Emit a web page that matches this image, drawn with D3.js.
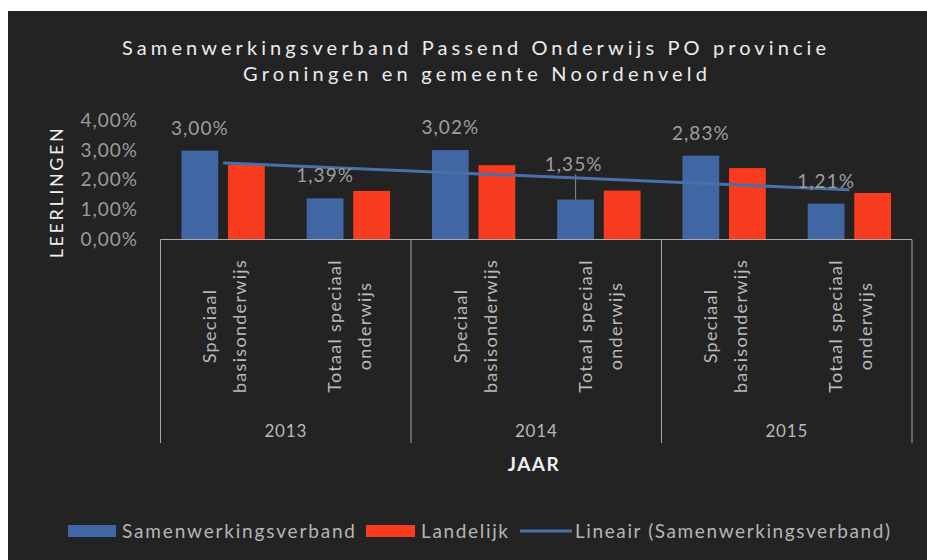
<!DOCTYPE html>
<html lang="nl">
<head>
<meta charset="UTF-8">
<title>Samenwerkingsverband</title>
<script src="https://d3js.org/d3.v7.min.js"></script>
<style>
    body { margin: 0; background: #fff; }
    text { font-family: Lato, "Open Sans", sans-serif; }
</style>
</head>
<body>
<script>
// data
var years = ["2013", "2014", "2015"];
var categoryLines = [["Speciaal", "basisonderwijs"], ["Totaal speciaal", "onderwijs"]];
var samenwerking = [3.00, 1.39, 3.02, 1.35, 2.83, 1.21];
var landelijk = [2.52, 1.64, 2.51, 1.65, 2.41, 1.57];
var yTicks = [0, 1, 2, 3, 4];
var seriesNames = ["Samenwerkingsverband", "Landelijk"];

var width = 927, height = 560;
var blue = "#4067a4", red = "#f93c1f";

var svg = d3.select("body").append("svg")
    .attr("width", width)
    .attr("height", height);

// dark panel
svg.append("rect")
    .attr("x", 8).attr("y", 11)
    .attr("width", width - 8).attr("height", height - 11)
    .attr("fill", "#232323");

// one entry per bar group (year x category)
var rows = [];
years.forEach(function (yr, i) {
    categoryLines.forEach(function (lines, j) {
        var k = i * categoryLines.length + j;
        rows.push({ id: k, year: yr, lines: lines, s: samenwerking[k], l: landelijk[k] });
    });
});

var x0 = d3.scaleBand()
    .domain(rows.map(function (d) { return d.id; }))
    .range([160.5, 912]);

var x1 = d3.scaleBand()
    .domain(seriesNames)
    .range([0, x0.bandwidth()])
    .paddingInner(0.21)
    .paddingOuter(0.45);

var y = d3.scaleLinear()
    .domain([0, 4])
    .range([239.5, 121]);

// title
var title = svg.append("g").attr("fill", "#ececec").style("font-size", "20px");
title.append("text")
    .attr("x", 474).attr("y", 55)
    .attr("text-anchor", "middle")
    .attr("textLength", 704).attr("lengthAdjust", "spacing")
    .text("Samenwerkingsverband Passend Onderwijs PO provincie");
title.append("text")
    .attr("x", 475).attr("y", 81)
    .attr("text-anchor", "middle")
    .attr("textLength", 464).attr("lengthAdjust", "spacing")
    .text("Groningen en gemeente Noordenveld");

// y axis labels
svg.append("g").selectAll("text")
    .data(yTicks)
    .enter().append("text")
    .attr("x", 138)
    .attr("y", function (d) { return y(d) + 6; })
    .attr("text-anchor", "end")
    .attr("fill", "#9b9b9b")
    .style("font-size", "19px")
    .style("letter-spacing", "1px")
    .text(function (d) { return d3.format(".2f")(d).replace(".", ",") + "%"; });

svg.append("text")
    .attr("transform", "translate(63,192) rotate(-90)")
    .attr("text-anchor", "middle")
    .attr("fill", "#efefef")
    .style("font-size", "18px")
    .style("letter-spacing", "2.6px")
    .text("LEERLINGEN");

// bars
var groups = svg.append("g").selectAll("g")
    .data(rows)
    .enter().append("g")
    .attr("transform", function (d) { return "translate(" + x0(d.id) + ",0)"; });

groups.append("rect")
    .attr("x", x1("Samenwerkingsverband"))
    .attr("width", x1.bandwidth())
    .attr("y", function (d) { return y(d.s); })
    .attr("height", function (d) { return y(0) - y(d.s); })
    .attr("fill", blue);

groups.append("rect")
    .attr("x", x1("Landelijk"))
    .attr("width", x1.bandwidth())
    .attr("y", function (d) { return y(d.l); })
    .attr("height", function (d) { return y(0) - y(d.l); })
    .attr("fill", red);

// linear trend of Samenwerkingsverband (like Excel's "Lineair")
var xs = rows.map(function (d, i) { return i + 1; });
var mx = d3.mean(xs), my = d3.mean(samenwerking);
var slope = d3.sum(xs, function (v, i) { return (v - mx) * (samenwerking[i] - my); }) /
    d3.sum(xs, function (v) { return (v - mx) * (v - mx); });
var trend = rows.map(function (d, i) { return { id: d.id, v: my + slope * (xs[i] - mx) }; });

svg.append("path")
    .datum([trend[0], trend[trend.length - 1]])
    .attr("fill", "none")
    .attr("stroke", "#4a70a9")
    .attr("stroke-width", 3)
    .attr("d", d3.line()
        .x(function (d) { return x0(d.id) + x0.bandwidth() / 2; })
        .y(function (d) { return y(d.v); }));

// data labels on the blue bars
var fmt = function (v) { return d3.format(".2f")(v).replace(".", ",") + "%"; };
var labelX = function (d) { return x0(d.id) + x1("Samenwerkingsverband") + x1.bandwidth() / 2; };
var lift = function (d) { return d.id === 3 ? 29 : 16; };

groups.filter(function (d) { return d.id === 3; })
    .append("line")
    .attr("x1", function (d) { return x1("Samenwerkingsverband") + x1.bandwidth() / 2; })
    .attr("x2", function (d) { return x1("Samenwerkingsverband") + x1.bandwidth() / 2; })
    .attr("y1", function (d) { return y(d.s) - lift(d) + 4; })
    .attr("y2", function (d) { return y(d.s); })
    .attr("stroke", "#8a8a8a");

svg.append("g").selectAll("text")
    .data(rows)
    .enter().append("text")
    .attr("x", function (d) { return labelX(d) + (d.id === 3 ? -2 : 0); })
    .attr("y", function (d) { return y(d.s) - lift(d); })
    .attr("text-anchor", "middle")
    .attr("fill", "#9e9e9e")
    .style("font-size", "19px")
    .style("letter-spacing", "1px")
    .text(function (d) { return fmt(d.s); });

// category axis
var axis = svg.append("g").attr("stroke", "#a9a9a9").attr("stroke-width", 1);
axis.append("line")
    .attr("x1", x0.range()[0]).attr("x2", x0.range()[1])
    .attr("y1", y(0)).attr("y2", y(0));

var yearEdges = d3.range(years.length + 1).map(function (i) {
    return i < years.length ? x0(i * categoryLines.length) : x0.range()[1];
});
axis.selectAll("line.sep")
    .data(yearEdges)
    .enter().append("line")
    .attr("class", "sep")
    .attr("x1", function (d) { return d; }).attr("x2", function (d) { return d; })
    .attr("y1", y(0)).attr("y2", 443);

var catLabels = svg.append("g").selectAll("text")
    .data(rows)
    .enter().append("text")
    .attr("transform", function (d) {
        return "translate(" + (x0(d.id) + x0.bandwidth() / 2) + ",326) rotate(-90)";
    })
    .attr("text-anchor", "middle")
    .attr("fill", "#b9b9b9")
    .style("font-size", "18px")
    .style("letter-spacing", "1.3px");

catLabels.selectAll("tspan")
    .data(function (d) { return d.lines; })
    .enter().append("tspan")
    .attr("x", 0)
    .attr("y", function (d, i) { return i === 0 ? -7 : 23; })
    .text(function (d) { return d; });

svg.append("g").selectAll("text")
    .data(years)
    .enter().append("text")
    .attr("x", function (d, i) { return (yearEdges[i] + yearEdges[i + 1]) / 2; })
    .attr("y", 437)
    .attr("text-anchor", "middle")
    .attr("fill", "#b9b9b9")
    .style("font-size", "17px")
    .style("letter-spacing", "0.8px")
    .text(function (d) { return d; });

svg.append("text")
    .attr("x", 534).attr("y", 471)
    .attr("text-anchor", "middle")
    .attr("fill", "#efefef")
    .style("font-size", "19px")
    .style("font-weight", "bold")
    .style("letter-spacing", "1.5px")
    .text("JAAR");

// legend
var legend = svg.append("g").attr("fill", "#b5b5b5").style("font-size", "19px");
legend.append("rect").attr("x", 68).attr("y", 525).attr("width", 48).attr("height", 12).attr("fill", blue);
legend.append("text").attr("x", 122).attr("y", 538)
    .attr("textLength", 233).attr("lengthAdjust", "spacing").text("Samenwerkingsverband");
legend.append("rect").attr("x", 366).attr("y", 525).attr("width", 49).attr("height", 12).attr("fill", red);
legend.append("text").attr("x", 421).attr("y", 538)
    .attr("textLength", 87).attr("lengthAdjust", "spacing").text("Landelijk");
legend.append("line").attr("x1", 520).attr("x2", 572).attr("y1", 531).attr("y2", 531)
    .attr("stroke", "#4a70a9").attr("stroke-width", 3);
legend.append("text").attr("x", 575).attr("y", 538)
    .attr("textLength", 315).attr("lengthAdjust", "spacing").text("Lineair (Samenwerkingsverband)");
</script>
</body>
</html>
